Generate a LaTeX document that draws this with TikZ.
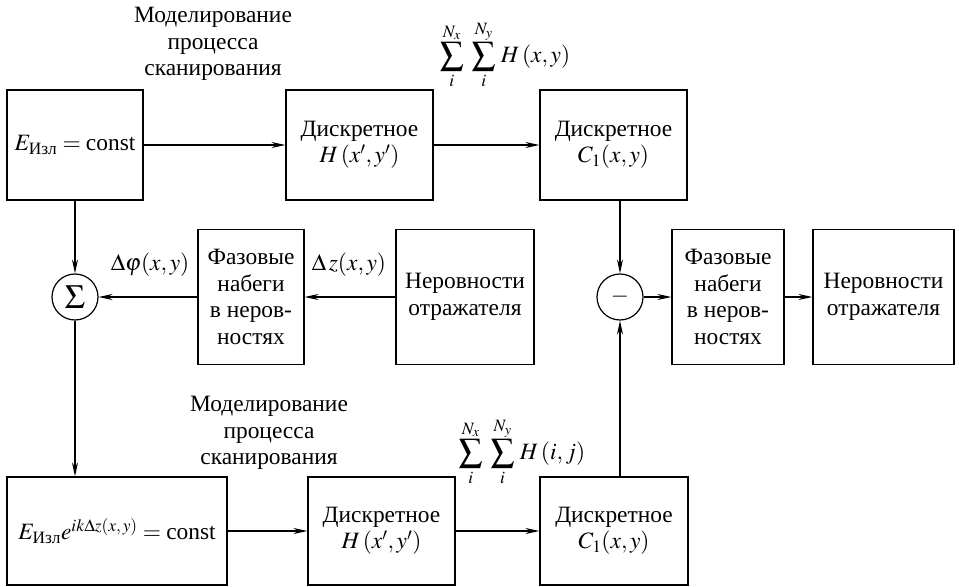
\documentclass[tikz,border=0pt]{standalone}
\usepackage{amsmath}
\usepackage{mathptmx}
\usepackage{fontspec}
\setmainfont{Liberation Serif}
\usetikzlibrary{arrows.meta}

\begin{document}
\begin{tikzpicture}[x=1bp,y=-1bp,line width=1.2bp,
    every node/.style={font=\fontsize{23.5}{26.5}\selectfont},
    blok/.style={draw,align=center,inner sep=0pt},
    krug/.style={draw,circle,minimum size=46bp,inner sep=0pt},
    >={Stealth[length=14bp,width=6bp]}]
    \useasboundingbox (0,0) rectangle (959,587);
    % top row
    \node[blok,minimum width=136bp,minimum height=110bp] (izl) at (75,145) {$E_{\text{Изл}} = \text{const}$};
    \node[blok,minimum width=147bp,minimum height=110bp] (hd) at (359.5,145) {Дискретное\\$H\,(x', y')$};
    \node[blok,minimum width=147bp,minimum height=110bp] (cd) at (613.5,145) {Дискретное\\$C_1(x, y)$};
    % middle row
    \node[krug] (sum) at (75,297) {\fontsize{34}{34}\selectfont$\Sigma$};
    \node[blok,minimum width=106bp,minimum height=135bp] (fn1) at (251,297) {Фазовые\\набеги\\в неров-\\ностях};
    \node[blok,minimum width=138bp,minimum height=135bp] (ner1) at (465,297) {Неровности\\отражателя};
    \node[krug] (minus) at (620,297) {$-$};
    \node[blok,minimum width=112bp,minimum height=135bp] (fn2) at (728,297) {Фазовые\\набеги\\в неров-\\ностях};
    \node[blok,minimum width=141bp,minimum height=135bp] (ner2) at (883.5,297) {Неровности\\отражателя};
    % bottom row
    \node[blok,minimum width=220bp,minimum height=108bp] (izl2) at (117,531) {$E_{\text{Изл}}e^{ik\Delta z(x,\, y)} = \text{const}$};
    \node[blok,minimum width=147bp,minimum height=108bp] (hd2) at (381.5,531) {Дискретное\\$H\,(x', y')$};
    \node[blok,minimum width=148bp,minimum height=108bp] (cd2) at (614,531) {Дискретное\\$C_1(x, y)$};
    % labels
    \node[align=center] (mod1) at (213,44) {Моделирование\\процесса\\сканирования};
    \node[align=center] (mod2) at (269,433) {Моделирование\\процесса\\сканирования};
    \node (sum1) at (505,55) {$\displaystyle\sum_{i}^{N_x}\;\sum_{i}^{N_y}\, H\,(x, y)$};
    \node (sum2) at (522,452) {$\displaystyle\sum_{i}^{N_x}\;\sum_{i}^{N_y}\, H\,(i, j)$};
    \node (dphi) at (150,265) {$\Delta\varphi(x, y)$};
    \node (dz) at (349,265) {$\Delta\,z(x, y)$};
    % arrows
    \draw[->] (izl) -- (hd);
    \draw[->] (hd) -- (cd);
    \draw[->] (izl) -- (sum);
    \draw[->] (ner1) -- (fn1);
    \draw[->] (fn1) -- (sum);
    \draw[->] (sum) -- (sum |- izl2.north);
    \draw[->] (izl2) -- (hd2);
    \draw[->] (hd2) -- (cd2);
    \draw[->] (cd.south -| minus) -- (minus);
    \draw[->] (cd2.north -| minus) -- (minus);
    \draw[->] (minus) -- (fn2);
    \draw[->] (fn2) -- (ner2);
\end{tikzpicture}
\end{document}
